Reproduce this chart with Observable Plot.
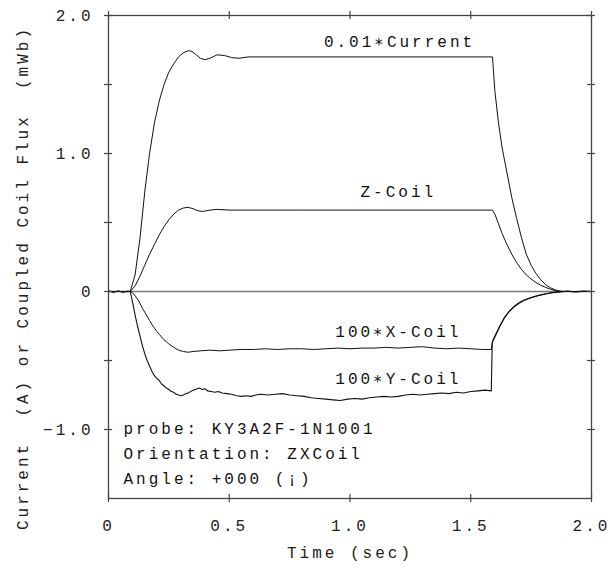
<!DOCTYPE html>
<html>
<head>
<meta charset="utf-8">
<script src="https://cdn.jsdelivr.net/npm/d3@7"></script>
<script src="https://cdn.jsdelivr.net/npm/@observablehq/plot@0.6"></script>
<style>
  body { margin: 0; background: #fff; }
  svg text { letter-spacing: 3px; }
</style>
</head>
<body>
<div id="chart"></div>
<script>
// ---- Tick values and labels ----
const xTicks = [0, 0.5, 1.0, 1.5, 2.0];
const xTickLabels = ["0", "0.5", "1.0", "1.5", "2.0"];
const yTicks = [-1.0, -0.5, 0, 0.5, 1.0, 1.5, 2.0];
const yLabelTicks = [2.0, 1.0, 0, -1.0];
const yTickLabels = ["2.0", "1.0", "0", "\u22121.0"];

// ---- Series: [time (s), value] ----
const current = [
  [0,0],[0.05,0],[0.09,0],[0.11,0.12],[0.13,0.38],[0.15,0.72],[0.17,1.0],[0.19,1.22],
  [0.21,1.38],[0.23,1.5],[0.25,1.59],[0.27,1.65],[0.29,1.70],[0.31,1.73],[0.33,1.745],
  [0.345,1.74],[0.36,1.72],[0.38,1.69],[0.40,1.68],[0.42,1.69],[0.45,1.715],[0.48,1.71],
  [0.51,1.695],[0.54,1.69],[0.58,1.70],[0.62,1.70],[0.8,1.70],[1.0,1.70],[1.2,1.70],
  [1.4,1.70],[1.59,1.70],[1.60,1.45],[1.615,1.22],[1.63,1.04],[1.65,0.86],[1.67,0.68],
  [1.69,0.53],[1.71,0.39],[1.73,0.27],[1.75,0.19],[1.77,0.13],[1.79,0.085],[1.81,0.05],
  [1.83,0.027],[1.85,0.012],[1.87,0.003],[1.89,0],[2.0,0]
];
const zCoil = [
  [0,0],[0.09,0],[0.11,0.04],[0.13,0.11],[0.15,0.19],[0.17,0.27],[0.19,0.34],[0.21,0.41],
  [0.23,0.47],[0.25,0.52],[0.27,0.56],[0.29,0.59],[0.31,0.605],[0.33,0.61],[0.35,0.60],
  [0.37,0.585],[0.39,0.58],[0.42,0.59],[0.45,0.595],[0.5,0.59],[0.8,0.59],[1.2,0.59],
  [1.59,0.59],[1.60,0.56],[1.615,0.49],[1.63,0.42],[1.65,0.34],[1.67,0.27],[1.69,0.21],
  [1.71,0.16],[1.73,0.12],[1.75,0.09],[1.77,0.065],[1.79,0.045],[1.81,0.03],[1.83,0.017],
  [1.85,0.007],[1.87,0],[2.0,0]
];
const xCoil = [
  [0,0.003],[0.02,-0.004],[0.04,0.003],[0.06,-0.003],[0.09,0],[0.10,-0.01],[0.11,-0.03],
  [0.12,-0.055],[0.13,-0.085],[0.14,-0.12],[0.15,-0.15],[0.16,-0.18],[0.17,-0.21],
  [0.18,-0.24],[0.19,-0.265],[0.20,-0.29],[0.21,-0.31],[0.22,-0.33],[0.23,-0.35],
  [0.24,-0.365],[0.25,-0.38],[0.27,-0.405],[0.29,-0.425],[0.31,-0.435],[0.33,-0.44],
  [0.35,-0.435],[0.38,-0.43],[0.42,-0.425],[0.46,-0.43],[0.50,-0.425],[0.55,-0.42],
  [0.60,-0.42],[0.65,-0.415],[0.70,-0.42],[0.75,-0.415],[0.80,-0.415],[0.85,-0.42],
  [0.90,-0.415],[0.95,-0.41],[1.0,-0.415],[1.05,-0.41],[1.10,-0.41],[1.15,-0.405],
  [1.20,-0.41],[1.25,-0.405],[1.30,-0.40],[1.35,-0.41],[1.40,-0.415],[1.45,-0.41],
  [1.50,-0.415],[1.55,-0.42],[1.585,-0.42],[1.59,-0.36],[1.60,-0.32],[1.62,-0.25],
  [1.64,-0.185],[1.66,-0.14],[1.68,-0.105],[1.70,-0.08],[1.72,-0.062],[1.75,-0.043],
  [1.78,-0.028],[1.81,-0.016],[1.84,-0.007],[1.87,-0.002],[1.90,0.003],[1.94,-0.003],
  [1.97,0.002],[2.0,0]
];
const yCoil = [
  [0,0.005],[0.02,-0.005],[0.04,0.004],[0.06,-0.006],[0.08,0.003],[0.09,0],[0.10,-0.08],
  [0.11,-0.17],[0.12,-0.25],[0.13,-0.32],[0.14,-0.39],[0.15,-0.45],[0.16,-0.50],
  [0.17,-0.54],[0.18,-0.58],[0.19,-0.61],[0.20,-0.63],[0.21,-0.645],[0.22,-0.67],
  [0.23,-0.685],[0.24,-0.70],[0.25,-0.71],[0.26,-0.725],[0.27,-0.73],[0.28,-0.745],
  [0.29,-0.75],[0.30,-0.755],[0.31,-0.75],[0.32,-0.74],[0.33,-0.735],[0.345,-0.72],
  [0.36,-0.71],[0.375,-0.70],[0.39,-0.71],[0.40,-0.705],[0.41,-0.72],[0.425,-0.725],
  [0.44,-0.73],[0.455,-0.725],[0.47,-0.735],[0.49,-0.74],[0.51,-0.745],[0.53,-0.755],
  [0.55,-0.76],[0.57,-0.755],[0.59,-0.76],[0.61,-0.75],[0.63,-0.745],[0.66,-0.75],
  [0.69,-0.745],[0.72,-0.74],[0.75,-0.75],[0.78,-0.755],[0.81,-0.76],[0.84,-0.77],
  [0.87,-0.775],[0.90,-0.78],[0.93,-0.785],[0.96,-0.79],[0.99,-0.78],[1.02,-0.775],
  [1.05,-0.78],[1.08,-0.77],[1.11,-0.765],[1.14,-0.76],[1.17,-0.765],[1.20,-0.76],
  [1.23,-0.75],[1.26,-0.745],[1.29,-0.75],[1.32,-0.745],[1.35,-0.74],[1.38,-0.735],
  [1.41,-0.74],[1.44,-0.73],[1.47,-0.735],[1.50,-0.725],[1.53,-0.72],[1.56,-0.715],
  [1.585,-0.72],[1.589,-0.37],[1.60,-0.33],[1.62,-0.255],[1.64,-0.19],[1.66,-0.145],
  [1.68,-0.11],[1.70,-0.085],[1.72,-0.065],[1.75,-0.045],[1.78,-0.03],[1.81,-0.018],
  [1.84,-0.008],[1.87,-0.003],[1.90,0.002],[1.93,-0.004],[1.96,0.003],[2.0,0]
];

// ---- Text ----
const seriesLabels = ["0.01\u2217Current", "Z-Coil", "100\u2217X-Coil", "100\u2217Y-Coil"];
const seriesLabelX = [1.205, 1.2, 1.2, 1.2];
const seriesLabelY = [1.81, 0.72, -0.29, -0.63];
const infoLines = ["probe: KY3A2F-1N1001", "Orientation: ZXCoil", "Angle: +000 (\u00a1)"];
const xTitle = "Time (sec)";
const yTitle = "Current\u00a0 (A) or Coupled Coil Flux\u00a0 (mWb)";

const labelRows = seriesLabels.map((s, i) => ({text: s, x: seriesLabelX[i], y: seriesLabelY[i]}));
const tickLen = 4; // px
const ink = "#222";
const frameInk = "#444";
const infoDy = [-70, -45, -20];

const chart = Plot.plot({
  width: 610,
  height: 568,
  marginLeft: 108,
  marginRight: 19,
  marginTop: 15,
  marginBottom: 70,
  style: {fontFamily: "Liberation Mono, DejaVu Sans Mono, monospace", fontSize: "16px", color: ink, background: "#fff"},
  x: {domain: [0, 2.0]},
  y: {domain: [-1.5, 2.0]},
  marks: [
    Plot.ruleY([0], {stroke: "#777", strokeWidth: 1.5}),
    Plot.line(current, {x: d => d[0], y: d => d[1], stroke: "#111", strokeWidth: 1}),
    Plot.line(zCoil, {x: d => d[0], y: d => d[1], stroke: "#111", strokeWidth: 1}),
    Plot.line(xCoil, {x: d => d[0], y: d => d[1], stroke: "#111", strokeWidth: 1}),
    Plot.line(yCoil, {x: d => d[0], y: d => d[1], stroke: "#111", strokeWidth: 1.1}),
    Plot.frame({stroke: frameInk, strokeWidth: 1.3}),
    // ticks crossing the frame on all four sides
    Plot.ruleX(xTicks, {x: d => d, y1: -1.5, y2: -1.5, insetTop: -tickLen, insetBottom: -tickLen, stroke: frameInk, strokeWidth: 1.2}),
    Plot.ruleX(xTicks, {x: d => d, y1: 2.0, y2: 2.0, insetTop: -tickLen, insetBottom: -tickLen, stroke: frameInk, strokeWidth: 1.2}),
    Plot.ruleY(yTicks, {y: d => d, x1: 0, x2: 0, insetLeft: -tickLen, insetRight: -tickLen, stroke: frameInk, strokeWidth: 1.2}),
    Plot.ruleY(yTicks, {y: d => d, x1: 2.0, x2: 2.0, insetLeft: -tickLen, insetRight: -tickLen, stroke: frameInk, strokeWidth: 1.2}),
    // tick labels and axis titles
    Plot.axisX({anchor: "bottom", ticks: xTicks, tickSize: 0, tickPadding: 21,
      tickFormat: d => xTickLabels[xTicks.indexOf(d)], label: null}),
    Plot.axisY({anchor: "left", ticks: yLabelTicks, tickSize: 0, tickPadding: 15,
      tickFormat: d => yTickLabels[yLabelTicks.indexOf(d)], label: null}),
    Plot.text([xTitle], {text: d => d, frameAnchor: "bottom", dy: 54, lineAnchor: "middle", fill: ink}),
    Plot.text([yTitle], {text: d => d, frameAnchor: "left", textAnchor: "middle", rotate: -90, dx: -86, dy: 21, lineAnchor: "middle", fill: ink}),
    Plot.text(labelRows, {x: "x", y: "y", text: "text", fill: "#111"}),
    ...infoLines.map((line, i) => Plot.text([line], {text: d => d, frameAnchor: "bottom-left", textAnchor: "start",
      lineAnchor: "middle", dx: 15, dy: infoDy[i], fill: "#111"}))
  ]
});
document.getElementById("chart").appendChild(chart);
</script>
</body>
</html>
